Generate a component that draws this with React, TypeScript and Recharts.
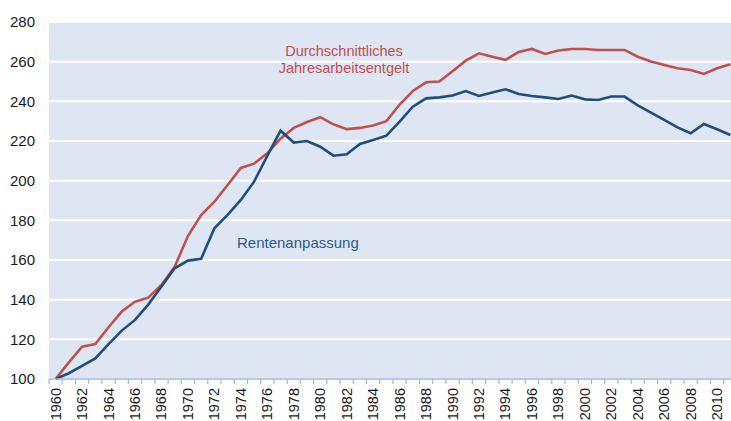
import { CartesianGrid, Line, LineChart, XAxis, YAxis } from "recharts";

const years = [
  1960, 1961, 1962, 1963, 1964, 1965, 1966, 1967, 1968, 1969,
  1970, 1971, 1972, 1973, 1974, 1975, 1976, 1977, 1978, 1979,
  1980, 1981, 1982, 1983, 1984, 1985, 1986, 1987, 1988, 1989,
  1990, 1991, 1992, 1993, 1994, 1995, 1996, 1997, 1998, 1999,
  2000, 2001, 2002, 2003, 2004, 2005, 2006, 2007, 2008, 2009,
  2010, 2011,
];

// Durchschnittliches Jahresarbeitsentgelt (1960 = 100)
const entgelt = [
  100, 108.4, 116.3, 117.6, 126.1, 134, 139, 141, 147.4, 156.6,
  172.1, 182.7, 189.4, 197.8, 206.4, 208.6, 213.8, 221.2, 226.6, 229.6,
  232, 228.4, 226, 226.6, 227.8, 230, 238.4, 245.2, 249.6, 250,
  255.2, 260.5, 264.2, 262.5, 260.9, 264.9, 266.4, 263.9, 265.6, 266.4,
  266.4, 265.9, 265.9, 265.9, 262.5, 260.1, 258.3, 256.7, 255.8, 253.8,
  256.7, 258.7,
];

// Rentenanpassung (1960 = 100)
const rente = [
  100, 102.9, 106.6, 110.4, 117.6, 124.4, 129.8, 137.5, 146.6, 155.8,
  159.7, 160.6, 176, 182.7, 190.3, 199.5, 212.5, 225.2, 219.2, 220,
  217.1, 212.6, 213.3, 218.5, 220.5, 222.7, 229.8, 237.3, 241.5, 242,
  242.9, 245.2, 242.7, 244.4, 246.1, 243.7, 242.7, 242, 241.2, 242.9,
  241, 240.7, 242.4, 242.4, 238, 234.3, 230.6, 226.9, 223.9, 228.6,
  225.9, 223,
];

const yTicks = [100, 120, 140, 160, 180, 200, 220, 240, 260, 280];
const labelYears = [
  1960, 1962, 1964, 1966, 1968, 1970, 1972, 1974, 1976, 1978, 1980, 1982,
  1984, 1986, 1988, 1990, 1992, 1994, 1996, 1998, 2000, 2002, 2004, 2006,
  2008, 2010,
];

const chartData = years.map((year, i) => ({ year, entgelt: entgelt[i], rente: rente[i] }));

// tick marks at the year boundaries, labels at even years
const xTicks = [
  ...years.map((y) => y - 0.5),
  years[years.length - 1] + 0.5,
  ...labelYears,
].sort((a, b) => a - b);

const RED = "#c0504d";
const BLUE = "#1f4e7c";
const AXIS = "#9fb9dc";
const FONT = "'Liberation Sans', Arial, sans-serif";

const YearTick = (props: any) => {
  const { x, y, payload } = props;
  const v = Number(payload.value);
  if (v % 1 !== 0) {
    return <line x1={x} x2={x} y1={y} y2={y + 5} stroke={AXIS} strokeWidth={1.2} />;
  }
  return (
    <text
      x={x + 5}
      y={y + 9}
      transform={`rotate(-90, ${x + 5}, ${y + 9})`}
      textAnchor="end"
      fontSize={14.5}
      fontFamily={FONT}
      fill="#1a1a1a"
    >
      {v}
    </text>
  );
};

const App = () => {
  return (
    <div style={{ position: "absolute", left: 0, top: 0, width: 731, height: 421, overflow: "hidden", background: "#fff" }}>
      <LineChart width={737} height={421} data={chartData} margin={{ top: 22, right: 0, left: 0, bottom: 0 }}>
        <CartesianGrid horizontal vertical={false} stroke="#ffffff" strokeWidth={2} fill="#dfe6f3" />
        <XAxis
          dataKey="year"
          type="number"
          domain={[1959.5, 2011.5]}
          ticks={xTicks}
          interval={0}
          height={42}
          tickSize={0}
          tickMargin={0}
          tickLine={false}
          axisLine={{ stroke: AXIS, strokeWidth: 1.5 }}
          tick={<YearTick />}
        />
        <YAxis
          domain={[100, 280]}
          ticks={yTicks}
          width={49}
          interval={0}
          axisLine={false}
          tickLine={false}
          tickSize={0}
          tickMargin={14}
          tick={{ fill: "#1a1a1a", fontSize: 15, fontFamily: FONT }}
        />
        <Line type="linear" dataKey="entgelt" stroke={RED} strokeWidth={2.6} dot={false} isAnimationActive={false} />
        <Line type="linear" dataKey="rente" stroke={BLUE} strokeWidth={2.6} dot={false} isAnimationActive={false} />
      </LineChart>
      <div
        style={{
          position: "absolute",
          left: 244,
          top: 43,
          width: 200,
          textAlign: "center",
          color: RED,
          fontFamily: FONT,
          fontSize: 14.5,
          lineHeight: "17px",
        }}
      >
        Durchschnittliches
        <br />
        Jahresarbeitsentgelt
      </div>
      <div
        style={{
          position: "absolute",
          left: 237,
          top: 234,
          color: "#2c5b8c",
          fontFamily: FONT,
          fontSize: 15,
          lineHeight: "18px",
        }}
      >
        Rentenanpassung
      </div>
    </div>
  );
};

export default App;
